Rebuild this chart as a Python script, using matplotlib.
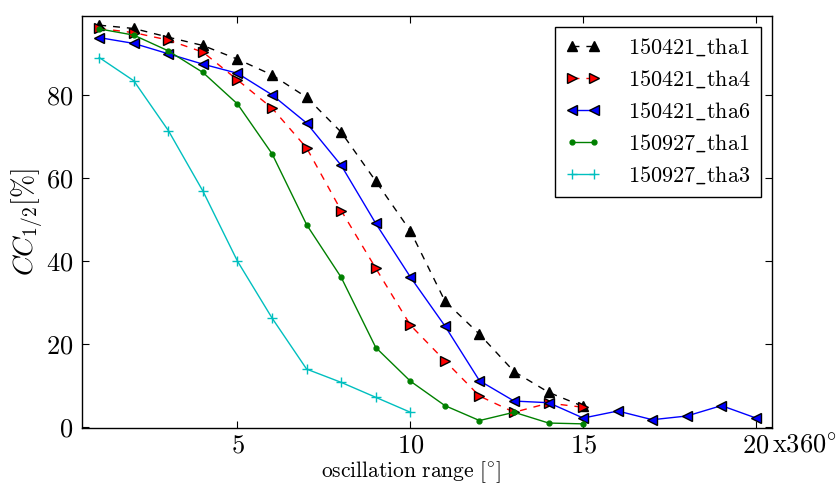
import matplotlib
matplotlib.use("Agg")
import matplotlib.pyplot as plt

plt.rcParams['mathtext.fontset'] = 'cm'
plt.rcParams['font.family'] = 'serif'
plt.rcParams['font.serif'] = ['DejaVu Serif']

x_a = list(range(1, 16))
x_b = list(range(1, 21))
x_c = list(range(1, 11))

tha1_150421 = [96.8, 96.0, 93.9, 91.9, 88.6, 84.8, 79.4, 71.0, 59.2, 47.2, 30.3, 22.3, 13.3, 8.3, 4.9]
tha4_150421 = [96.0, 95.0, 93.2, 90.3, 83.6, 76.8, 67.2, 52.1, 38.2, 24.5, 15.9, 7.4, 3.5, 5.7, 4.7]
tha6_150421 = [93.8, 92.4, 89.9, 87.4, 85.2, 80.0, 73.2, 63.0, 49.0, 36.1, 24.3, 11.1, 6.2, 5.8, 2.1,
               3.8, 1.7, 2.6, 5.1, 2.1]
tha1_150927 = [95.9, 94.4, 90.6, 85.4, 77.8, 65.8, 48.7, 36.0, 19.1, 11.0, 5.1, 1.5, 3.5, 0.9, 0.7]
tha3_150927 = [89.0, 83.4, 71.4, 56.8, 39.9, 26.2, 13.9, 10.7, 7.1, 3.5]

labels = ['150421_tha1', '150421_tha4', '150421_tha6', '150927_tha1', '150927_tha3']
xticks = [5, 10, 15, 20]
yticks = [0, 20, 40, 60, 80]

TFS = 19
LFS = 16
XPAD = 3

fig = plt.figure(figsize=(8.36, 4.86), dpi=100)
ax = fig.add_axes([0.098, 0.1193, 0.825, 0.8477])

def tex(s):
    return r'$\mathrm{' + s.replace('_', r'\_') + '}$'

dash = (5, 5)
ax.plot(x_a, tha1_150421, color='k', ls='--', dashes=dash, marker='^', ms=7, mec='k', mfc='k', lw=1, label=tex(labels[0]))
ax.plot(x_a, tha4_150421, color='r', ls='--', dashes=dash, marker='>', ms=7, mec='k', mfc='r', lw=1, label=tex(labels[1]))
ax.plot(x_b, tha6_150421, color='b', ls='-', marker='<', ms=7, mec='k', mfc='b', lw=1, label=tex(labels[2]))
ax.plot(x_a, tha1_150927, color='g', ls='-', marker='.', ms=7, mec='g', mfc='g', lw=1, label=tex(labels[3]))
ax.plot(x_c, tha3_150927, color='c', ls='-', marker='+', ms=7, mew=1, lw=1, label=tex(labels[4]))

ax.set_xlim(0.5, 20.45)
ax.set_ylim(-0.3, 99)
ax.set_xticks(xticks)
ax.set_xticklabels([r'$%d$' % t for t in xticks], fontsize=TFS)
ax.set_yticks(yticks)
ax.set_yticklabels([r'$%d$' % t for t in yticks], fontsize=TFS)
ax.tick_params(direction='in', top=True, right=True, length=5, width=0.8)
ax.tick_params(axis='y', pad=6)
ax.tick_params(axis='x', pad=XPAD)
for sp in ax.spines.values():
    sp.set_linewidth(1.0)
    sp.set_color('k')

ax.set_ylabel(r'$CC_{1/2}[\%]$', fontsize=TFS + 1)
ax.yaxis.set_label_coords(-0.054, 0.5)
ax.set_xlabel(r'$\mathrm{oscillation\ range\ [^{\circ}]}$', fontsize=15.5)
ax.xaxis.set_label_coords(0.477, -0.076)
ax.annotate(r'$\mathrm{x360^{\circ}}$', xy=(1.0, 0.0), xycoords='axes fraction',
            xytext=(0, -XPAD), textcoords='offset points', fontsize=TFS,
            va='top', ha='left', annotation_clip=False)

leg = ax.legend(loc='upper right', fontsize=LFS, numpoints=2, handlelength=1.6,
                handletextpad=1.2, labelspacing=0.45, fancybox=False, framealpha=1,
                edgecolor='k', borderaxespad=0.5, borderpad=0.45)
leg.get_frame().set_linewidth(1.0)

fig.savefig('out.png', dpi=100)
